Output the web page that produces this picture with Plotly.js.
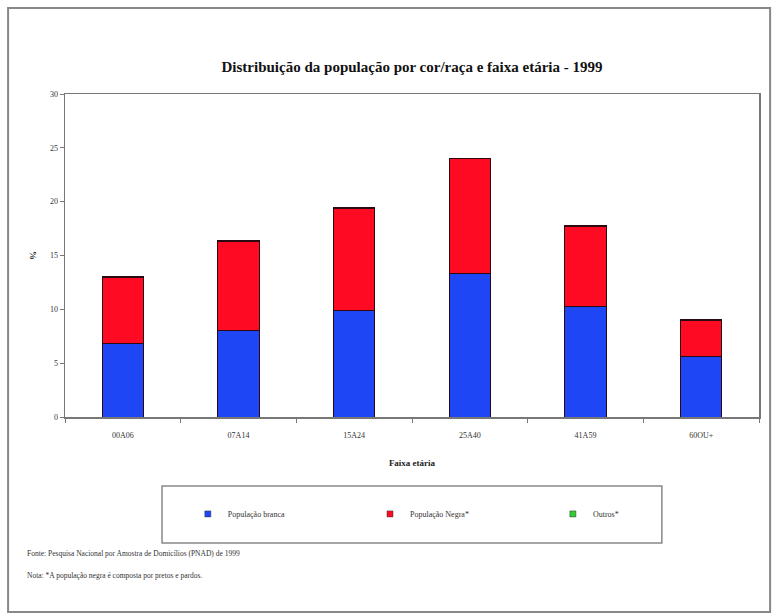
<!DOCTYPE html>
<html>
<head>
<meta charset="utf-8">
<script src="https://cdn.plot.ly/plotly-3.0.1.min.js"></script>
<style>body{margin:0;background:#fff}#chart{width:778px;height:616px}</style>
</head>
<body>
<div id="chart"></div>
<script>
const categories = ["00A06", "07A14", "15A24", "25A40", "41A59", "60OU+"];
const brancaValues = [6.8, 8.0, 9.9, 13.3, 10.3, 5.6];
const negraValues = [6.2, 8.3, 9.5, 10.7, 7.4, 3.4];
const outrosValues = [0.05, 0.05, 0.05, 0.05, 0.05, 0.05];
const seriesNames = ["População branca", "População Negra*", "Outros*"];
const seriesColors = ["#1f46f5", "#ff0a23", "#33cc33"];

const serif = "Liberation Serif, Times New Roman, serif";
const values = [brancaValues, negraValues, outrosValues];
const legendIds = ["legend", "legend2", "legend3"];

const traces = [];
values.forEach((v, i) => {
  traces.push({type: "bar", name: seriesNames[i], x: categories, y: v, showlegend: false,
    marker: {color: seriesColors[i], line: {color: "#2a0a10", width: 1}}});
});
values.forEach((v, i) => {
  traces.push({type: "scatter", mode: "markers", name: seriesNames[i], x: [null], y: [null],
    legend: legendIds[i], showlegend: true,
    marker: {symbol: "square", size: 6, color: seriesColors[i], line: {color: "#333", width: 0.5}}});
});

const legendBase = (x) => ({
  orientation: "v", x: x, xanchor: "left", y: -0.300, yanchor: "middle",
  font: {family: serif, size: 8, color: "#333"},
  bgcolor: "rgba(0,0,0,0)", borderwidth: 0, itemwidth: 30
});

const layout = {
  width: 778, height: 616,
  margin: {l: 65, r: 19, t: 94, b: 199},
  barmode: "stack",
  bargap: 0.64,
  paper_bgcolor: "#fff", plot_bgcolor: "#fff",
  font: {family: serif, color: "#222"},
  title: {text: "<b>Distribuição da população por cor/raça e faixa etária - 1999</b>",
          font: {family: serif, size: 15, color: "#111"}, x: 0.5, xref: "paper", y: 0.892, yanchor: "middle"},
  xaxis: {
    type: "category",
    showline: true, linecolor: "#777", linewidth: 1.5, mirror: true,
    ticks: "outside", ticklen: 4, tickcolor: "#777",
    tickson: "boundaries",
    ticklabelstandoff: 10,
    tickfont: {family: serif, size: 8, color: "#333"},
    title: {text: "<b>Faixa etária</b>", font: {family: serif, size: 9, color: "#222"}, standoff: 20}
  },
  yaxis: {
    range: [0, 30], dtick: 5,
    showgrid: false, zeroline: false,
    showline: true, linecolor: "#777", linewidth: 1.5, mirror: true,
    ticks: "outside", ticklen: 4, tickcolor: "#777",
    tickfont: {family: serif, size: 8, color: "#333"},
    title: {text: "<b>%</b>", font: {family: serif, size: 9, color: "#222"}, standoff: 12}
  },
  showlegend: true,
  legend: legendBase(0.177),
  legend2: legendBase(0.4395),
  legend3: legendBase(0.703),
  shapes: [
    {type: "rect", xref: "paper", yref: "paper", x0: -0.082, x1: 1.016, y0: -0.604, y1: 1.266,
     line: {color: "#888", width: 2}, fillcolor: "rgba(0,0,0,0)", layer: "below"},
    {type: "rect", xref: "paper", yref: "paper", x0: 0.1398, x1: 0.860, y0: -0.390, y1: -0.2136,
     line: {color: "#888", width: 1.5}, fillcolor: "rgba(0,0,0,0)"}
  ],
  annotations: [
    {xref: "paper", yref: "paper", x: -0.0576, y: -0.424, xanchor: "left", yanchor: "middle", showarrow: false,
     text: "Fonte: Pesquisa Nacional por Amostra de Domicílios (PNAD) de 1999", font: {family: serif, size: 7.5, color: "#333"}},
    {xref: "paper", yref: "paper", x: -0.0576, y: -0.492, xanchor: "left", yanchor: "middle", showarrow: false,
     text: "Nota: *A população negra é composta por pretos e pardos.", font: {family: serif, size: 7.5, color: "#333"}}
  ]
};

Plotly.newPlot("chart", traces, layout, {displayModeBar: false, staticPlot: true});
</script>
</body>
</html>
